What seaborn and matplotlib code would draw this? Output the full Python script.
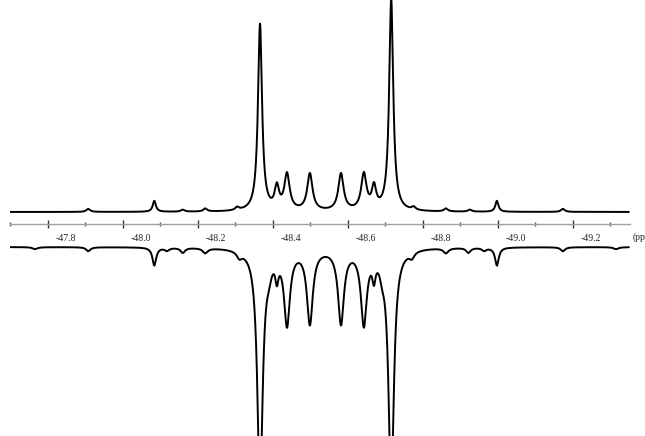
import numpy as np
import pandas as pd
import matplotlib.pyplot as plt
import matplotlib.transforms as mtransforms
import seaborn as sns
from matplotlib.ticker import FixedLocator, MultipleLocator, FormatStrFormatter

# upper trace (observed spectrum): line centres (ppm), heights, half widths (ppm)
exp_ppm = [-47.908, -48.084, -48.160, -48.220, -48.305, -48.366, -48.411, -48.438,
           -48.499, -48.582, -48.643, -48.670, -48.716, -48.776, -48.862, -48.926,
           -48.998, -49.174]
exp_height = [3, 11, 2, 3, 3, 187, 22, 36, 37, 37, 36, 22, 212, 3, 3, 2, 11, 3]
exp_hwhm = [0.006, 0.005, 0.006, 0.006, 0.006, 0.0065, 0.007, 0.0085,
            0.0085, 0.0085, 0.0085, 0.007, 0.0065, 0.006, 0.006, 0.006, 0.005, 0.006]

# lower trace (simulated spectrum, drawn downwards)
sim_ppm = [-47.766, -47.908, -48.084, -48.118, -48.160, -48.220, -48.311, -48.366,
           -48.390, -48.411, -48.438, -48.499, -48.582, -48.643, -48.670, -48.692,
           -48.716, -48.771, -48.862, -48.922, -48.964, -48.998, -49.174, -49.316]
sim_height = [2, 4, 18, 3, 5, 5, 6, 240, 12, 20, 74, 74, 74, 74, 20, 12,
              240, 6, 5, 5, 3, 18, 4, 2]
sim_hwhm = [0.008, 0.007, 0.006, 0.007, 0.007, 0.008, 0.008, 0.0085, 0.008, 0.005,
            0.0095, 0.0095, 0.0095, 0.0095, 0.005, 0.008, 0.0085, 0.008, 0.008,
            0.007, 0.007, 0.006, 0.007, 0.008]

tick_values = [-47.8, -48.0, -48.2, -48.4, -48.6, -48.8, -49.0, -49.2]
minor_step = 0.1
ppm_range = (-47.699, -49.353)


def lorentz_sum(x, centres, heights, widths):
    y = np.zeros_like(x)
    for c, h, w in zip(centres, heights, widths):
        y += h * w ** 2 / ((x - c) ** 2 + w ** 2)
    return y


x = np.linspace(-47.70, -49.35, 6000)
df = pd.DataFrame({
    'ppm': x,
    'upper': 12 + lorentz_sum(x, exp_ppm, exp_height, exp_hwhm),
    'lower': -23 - lorentz_sum(x, sim_ppm, sim_height, sim_hwhm),
})

sns.set_style("white")
plt.rcParams['font.family'] = ['Liberation Serif', 'DejaVu Serif']
plt.rcParams['axes.unicode_minus'] = False

fig = plt.figure(figsize=(6.45, 4.36), dpi=100)
ax = fig.add_axes([10 / 645, 0, 620 / 645, 1])

sns.lineplot(data=df, x='ppm', y='upper', ax=ax, color='black', linewidth=1.4)
sns.lineplot(data=df, x='ppm', y='lower', ax=ax, color='black', linewidth=1.4)

ax.set_xlim(*ppm_range)
ax.set_ylim(-212, 224)
ax.set_xlabel('')
ax.set_ylabel('')
ax.set_yticks([])

for side in ['top', 'left', 'right']:
    ax.spines[side].set_visible(False)
ax.spines['bottom'].set_position(('data', 0))
ax.spines['bottom'].set_color('#a0a0a0')
ax.spines['bottom'].set_linewidth(1.0)

ax.xaxis.set_major_locator(FixedLocator(tick_values))
ax.xaxis.set_minor_locator(MultipleLocator(minor_step))
ax.xaxis.set_major_formatter(FormatStrFormatter('%.1f'))
ax.tick_params(axis='x', which='major', bottom=True, direction='inout', length=6,
               width=1, color='#333333', labelsize=7, pad=4)
ax.tick_params(axis='x', which='minor', bottom=True, direction='inout', length=3,
               width=1, color='#555555')

# labels sit a little to the right of their ticks, as in the original printout
shift = mtransforms.ScaledTranslation(18 / 100, 0, fig.dpi_scale_trans)
for lab in ax.get_xticklabels():
    lab.set_transform(lab.get_transform() + shift)

ax.text(1.004, -13, '(ppm)', transform=ax.get_yaxis_transform(), fontsize=7,
        va='center', ha='left', clip_on=False)

fig.savefig('out.png', dpi=100)
